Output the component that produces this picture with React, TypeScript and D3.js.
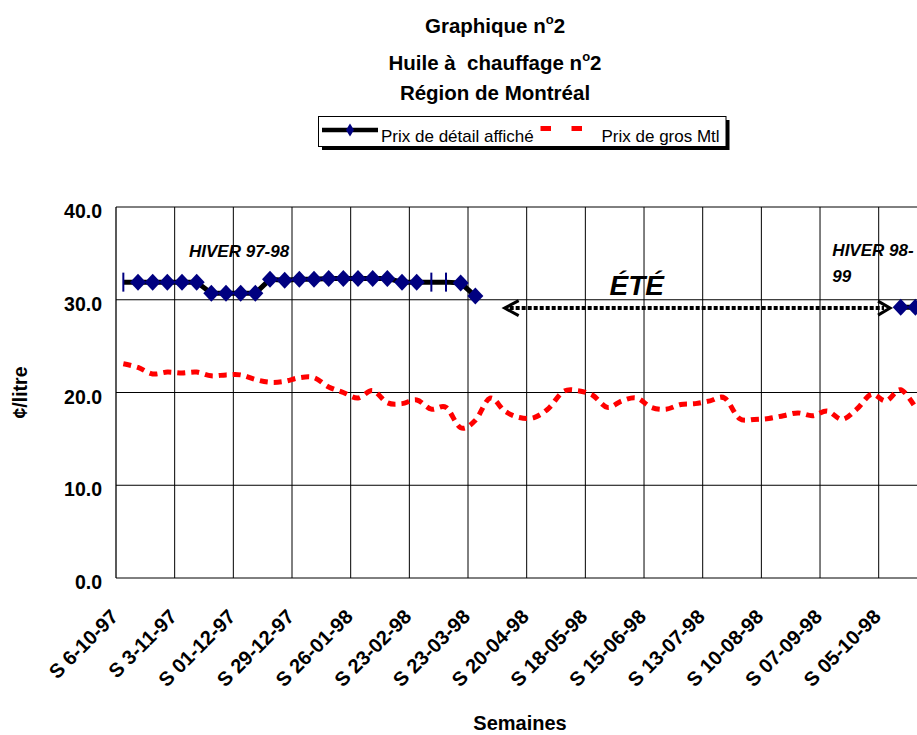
import * as d3 from 'd3'

// weekly categories, one label every 4 weeks
const tickLabels = [
  'S 6-10-97', 'S 3-11-97', 'S 01-12-97', 'S 29-12-97', 'S 26-01-98',
  'S 23-02-98', 'S 23-03-98', 'S 20-04-98', 'S 18-05-98', 'S 15-06-98',
  'S 13-07-98', 'S 10-08-98', 'S 07-09-98', 'S 05-10-98',
]
const weeks = d3.range(56)

// Prix de détail affiché (¢/litre), null = no posting
const retailPrice: (number | null)[] = [
  31.9, 31.9, 31.9, 31.9, 31.9, 31.9, 30.7, 30.7, 30.7, 30.7,
  32.2, 32.1, 32.2, 32.2, 32.3, 32.3, 32.3, 32.3, 32.3, 31.9,
  31.9, 31.9, 31.9, 31.8, 30.4, null, null, null, null, null,
  null, null, null, null, null, null, null, null, null, null,
  null, null, null, null, null, null, null, null, null, null,
  null, null, null, 29.2, 29.2,
]
// weeks drawn with a dash marker instead of a diamond
const dashMarkerWeeks = [0, 21, 22]

// Prix de gros Mtl (¢/litre)
const wholesalePrice = [
  23.1, 22.7, 22.0, 22.2, 22.1, 22.2, 21.8, 21.9, 21.9, 21.4,
  21.1, 21.2, 21.6, 21.6, 20.6, 20.0, 19.4, 20.2, 18.9, 18.8,
  19.2, 18.2, 18.4, 16.2, 17.0, 19.4, 18.0, 17.3, 17.3, 18.3,
  20.1, 20.2, 19.7, 18.4, 19.1, 19.4, 18.4, 18.2, 18.7, 18.8,
  19.1, 19.4, 17.2, 17.1, 17.2, 17.5, 17.8, 17.5, 18.0, 17.1,
  18.2, 19.8, 19.1, 20.3, 18.4,
]

const yTicks = [0, 10, 20, 30, 40]

const W = 917
const H = 735
const font = 'Liberation Sans, Arial, Helvetica, sans-serif'

export default function App() {
  const left = 116
  const top = 207
  const bottom = 578
  const step = (878.7 - left) / 52

  const x = d3
    .scaleBand<number>()
    .domain(weeks)
    .range([left, left + weeks.length * step])
  const cx = (i: number) => (x(i) ?? 0) + x.bandwidth() / 2
  const y = d3.scaleLinear().domain([0, 40]).range([bottom, top])

  const wholesaleLine = d3
    .line<number>()
    .x((_, i) => cx(i))
    .y(d => y(d))
    .curve(d3.curveCatmullRom.alpha(0))

  const retailLine = d3
    .line<number | null>()
    .defined(d => d != null)
    .x((_, i) => cx(i))
    .y(d => y(d as number))

  const diamond = (w: number, h: number) =>
    `M0,${-h}L${w},0L0,${h}L${-w},0Z`

  const arrowY = y(29.1)

  return (
    <svg
      width={W}
      height={H}
      style={{ position: 'absolute', left: 0, top: 0, fontFamily: font }}
    >
      <rect width={W} height={H} fill="#fff" />

      {/* title */}
      <g fontWeight="bold" fontSize={20.5} textAnchor="middle" fill="#000">
        <text x={495} y={33}>
          Graphique n<tspan fontSize={13} dy={-9}>o</tspan>
          <tspan dy={9}>2</tspan>
        </text>
        <text x={495} y={69.5}>
          Huile à{'\u00a0'} chauffage n<tspan fontSize={13} dy={-9}>o</tspan>
          <tspan dy={9}>2</tspan>
        </text>
        <text x={495} y={99.5}>Région de Montréal</text>
      </g>

      {/* legend */}
      <rect x={322} y={120} width={407.5} height={30} fill="#000" />
      <rect x={318.5} y={116.5} width={407.5} height={30} fill="#fff" stroke="#000" />
      <line x1={322} x2={378} y1={130} y2={130} stroke="#000" strokeWidth={4.5} />
      <path d={diamond(4, 6.5)} transform="translate(350,130)" fill="#000080" />
      <text x={381} y={141.5} fontSize={17}>Prix de détail affiché</text>
      <line x1={540.5} x2={551} y1={128.5} y2={128.5} stroke="#f00" strokeWidth={5} />
      <line x1={571.5} x2={582} y1={128.5} y2={128.5} stroke="#f00" strokeWidth={5} />
      <text x={601.5} y={141.5} fontSize={17}>Prix de gros Mtl</text>

      {/* grid */}
      {yTicks.map(t => (
        <line key={t} x1={left} x2={W} y1={y(t)} y2={y(t)} stroke="#000" strokeWidth={1} />
      ))}
      {weeks
        .filter(i => i % 4 === 0)
        .map(i => (
          <line
            key={i}
            x1={x(i)}
            x2={x(i)}
            y1={top}
            y2={bottom}
            stroke="#000"
            strokeWidth={i === 0 ? 1.3 : 1}
          />
        ))}

      {/* y axis labels */}
      <g fontWeight="bold" fontSize={19.5} textAnchor="end">
        {yTicks.map(t => (
          <text key={t} x={102} y={y(t) + 11}>
            {d3.format('.1f')(t)}
          </text>
        ))}
      </g>
      <text
        transform={`translate(27,${(top + bottom) / 2}) rotate(-90)`}
        textAnchor="middle"
        fontWeight="bold"
        fontSize={19.5}
      >
        ¢/litre
      </text>

      {/* x axis labels */}
      <g fontWeight="bold" fontSize={20} textAnchor="end">
        {tickLabels.map((lab, k) => (
          <text key={lab} transform={`translate(${cx(k * 4) - 4},618) rotate(-45)`}>
            {lab}
          </text>
        ))}
      </g>
      <text x={520} y={730} textAnchor="middle" fontWeight="bold" fontSize={20}>
        Semaines
      </text>

      {/* wholesale */}
      <path
        d={wholesaleLine(wholesalePrice) ?? ''}
        fill="none"
        stroke="#f00"
        strokeWidth={5}
        strokeDasharray="8 6"
      />

      {/* retail */}
      <path d={retailLine(retailPrice) ?? ''} fill="none" stroke="#000" strokeWidth={5} />
      {retailPrice.map((v, i) =>
        v == null ? null : dashMarkerWeeks.includes(i) ? (
          <line
            key={i}
            x1={cx(i)}
            x2={cx(i)}
            y1={y(v) - 9.5}
            y2={y(v) + 9.5}
            stroke="#000080"
            strokeWidth={2}
          />
        ) : (
          <path key={i} d={diamond(8, 8.5)} transform={`translate(${cx(i)},${y(v)})`} fill="#000080" />
        )
      )}

      {/* annotations */}
      <g fontWeight="bold" fontStyle="italic" fill="#000">
        <text x={cx(4) + 7} y={257} fontSize={17}>HIVER 97-98</text>
        <text x={cx(48) + 5} y={256} fontSize={17}>HIVER 98-</text>
        <text x={cx(48) + 5} y={281.5} fontSize={17}>99</text>
        <text x={cx(35)} y={295} fontSize={28} textAnchor="middle">
          ÉTÉ
        </text>
      </g>
      <line
        x1={cx(26) + 5}
        x2={cx(52) - 2}
        y1={arrowY}
        y2={arrowY}
        stroke="#000"
        strokeWidth={4}
        strokeDasharray="4 2"
      />
      <polyline
        points={`${cx(26) + 14},${arrowY - 7.5} ${cx(26)},${arrowY} ${cx(26) + 14},${arrowY + 7.5}`}
        fill="none"
        stroke="#000"
        strokeWidth={3}
      />
      <polyline
        points={`${cx(52) - 8},${arrowY - 7} ${cx(52) + 4},${arrowY} ${cx(52) - 8},${arrowY + 7}`}
        fill="none"
        stroke="#000"
        strokeWidth={3}
      />
    </svg>
  )
}
